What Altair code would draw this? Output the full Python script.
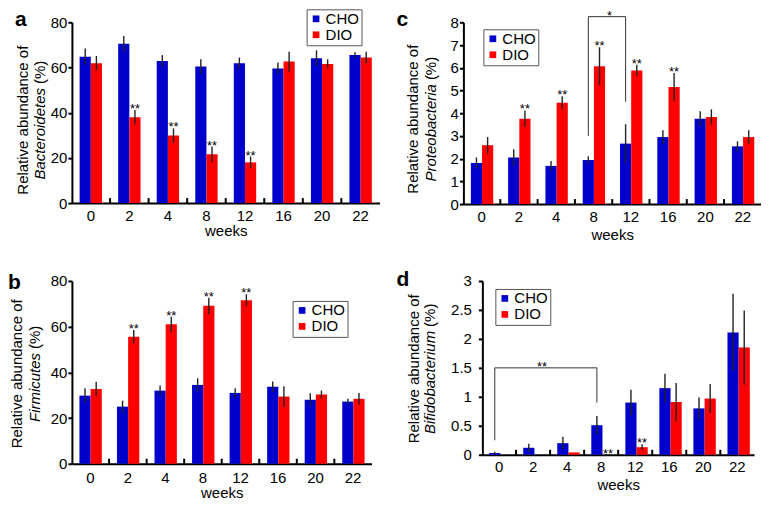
import altair as alt
import pandas as pd

weeks = ["0", "2", "4", "8", "12", "16", "20", "22"]
groups = ["CHO", "DIO"]
colors = ["#0000CC", "#FF0000"]
FONT = "Liberation Sans"

# Panel a: Bacteroidetes
a_cho = [64.8, 70.5, 62.9, 60.4, 61.9, 59.6, 64.1, 65.5]
a_cho_err = [3.6, 3.4, 2.6, 3.2, 2.5, 2.6, 3.5, 1.2]
a_dio = [61.9, 38.0, 29.9, 21.6, 18.0, 62.6, 61.6, 64.4]
a_dio_err = [3.2, 3.2, 3.2, 3.4, 2.6, 4.4, 2.0, 2.6]
a_stars = ["2", "4", "8", "12"]

# Panel b: Firmicutes
b_cho = [29.8, 25.0, 32.0, 34.5, 31.0, 33.7, 28.0, 27.2]
b_cho_err = [3.2, 2.6, 2.2, 2.9, 2.0, 2.3, 2.8, 1.2]
b_dio = [32.7, 55.6, 61.0, 69.1, 71.6, 29.4, 30.3, 28.4]
b_dio_err = [3.2, 2.9, 3.3, 3.6, 2.6, 4.5, 1.7, 2.6]
b_stars = ["2", "4", "8", "12"]

# Panel c: Proteobacteria
c_cho = [1.81, 2.05, 1.68, 1.94, 2.66, 2.95, 3.76, 2.54]
c_cho_err = [0.24, 0.36, 0.22, 0.16, 0.85, 0.30, 0.33, 0.22]
c_dio = [2.59, 3.76, 4.46, 6.07, 5.88, 5.15, 3.83, 2.95]
c_dio_err = [0.36, 0.36, 0.28, 0.83, 0.25, 0.62, 0.34, 0.30]
c_stars = ["2", "4", "8", "12", "16"]
c_bracket_weeks = ["8", "8", "12", "12"]
c_bracket_vals = [3.0, 8.25, 8.25, 4.5]

# Panel d: Bifidobacterium
d_cho = [0.03, 0.12, 0.20, 0.51, 0.90, 1.15, 0.80, 2.11]
d_cho_err = [0.02, 0.07, 0.11, 0.16, 0.22, 0.25, 0.19, 0.67]
d_dio = [0.0, 0.0, 0.04, 0.0, 0.13, 0.91, 0.97, 1.85]
d_dio_err = [0.0, 0.0, 0.0, 0.0, 0.05, 0.33, 0.25, 0.64]
d_stars = ["8", "12"]
d_bracket_weeks = ["0", "0", "8", "8"]
d_bracket_vals = [0.25, 1.5, 1.5, 0.9]

ITALIC_EM = {"Bacteroidetes": 6.114, "Proteobacteria": 6.503,
             "Firmicutes": 4.611, "Bifidobacterium": 6.891}
PCT_EM = 1.555
FS = 15
P_IN, P_OUT = 0.42, 0.2


def make_df(cho, cho_err, dio, dio_err, star_weeks):
    rows = []
    for g, m, e in (("CHO", cho, cho_err), ("DIO", dio, dio_err)):
        for w, mv, ev in zip(weeks, m, e):
            rows.append({"week": w, "group": g, "mean": mv,
                         "lo": mv - ev, "hi": mv + ev,
                         "star": "**" if (g == "DIO" and w in star_weeks) else ""})
    return pd.DataFrame(rows)


one = pd.DataFrame({"k": [0]})


def txt(text, x, y, **kw):
    params = dict(font=FONT, fontSize=FS, color="black")
    params.update(kw)
    return alt.Chart(one).mark_text(text=text, **params).encode(
        x=alt.value(x), y=alt.value(y))


def panel(df, ymax, yvals, W, H, letter, lx, ly, taxon, t1x, t2x, cy,
          leg_x, leg_y, lab_pad, title_pad, ylab_pad,
          bracket=None, bstar=None):
    xscale = alt.Scale(domain=weeks, paddingInner=P_IN, paddingOuter=P_OUT)
    xaxis = alt.Axis(title="weeks", labelAngle=0, ticks=False,
                     labelPadding=lab_pad, titlePadding=title_pad)
    x_enc = alt.X("week:N", sort=weeks, scale=xscale, axis=xaxis)
    xo = alt.XOffset("group:N", sort=groups,
                     scale=alt.Scale(domain=groups, paddingInner=0, paddingOuter=0))
    y_scale = alt.Scale(domain=[0, ymax], nice=False, zero=True)
    y_axis = alt.Axis(title=None, values=yvals, format="~r", labelPadding=ylab_pad,
                      labelOverlap=False)

    def Y(field):
        return alt.Y(field, scale=y_scale, axis=y_axis)

    legend = alt.Legend(title=None, orient="none", legendX=leg_x, legendY=leg_y,
                        direction="vertical", symbolType="square", symbolSize=45,
                        symbolStrokeWidth=0, labelFont=FONT, labelFontSize=FS,
                        labelColor="black", strokeColor="#555555", fillColor="white",
                        padding=2, rowPadding=0, labelOffset=2, cornerRadius=0)

    bars = alt.Chart(df).mark_bar(strokeWidth=0).encode(
        x=x_enc, xOffset=xo, y=Y("mean:Q"),
        color=alt.Color("group:N", scale=alt.Scale(domain=groups, range=colors),
                        legend=legend))
    err = alt.Chart(df).mark_rule(color="#222222", strokeWidth=1.4).encode(
        x=x_enc, xOffset=xo, y=Y("lo:Q"), y2="hi:Q")
    stars = alt.Chart(df).transform_filter("datum.star != ''").mark_text(
        font=FONT, fontSize=13, baseline="alphabetic", dy=3, color="black").encode(
        x=x_enc, xOffset=xo, y=Y("hi:Q"), text="star:N")

    step = W / (len(weeks) - P_IN + 2 * P_OUT)
    ticks = alt.Chart(pd.DataFrame({"week": weeks[1:]})).mark_rule(
        color="black", strokeWidth=2).encode(
        x=alt.X("week:N", sort=weeks, scale=xscale, axis=xaxis, bandPosition=0),
        xOffset=alt.value(-P_IN * step / 2),
        y=alt.value(H), y2=alt.value(H - 5))

    wi = ITALIC_EM[taxon] * FS
    wp = PCT_EM * FS
    gap = 4
    p = cy + (wp - wi) / 2
    layers = [bars, err, stars, ticks,
              txt("Relative abundance of", t1x, cy, angle=270, align="center", baseline="middle"),
              txt(taxon, t2x, p + gap / 2, angle=270, align="right", baseline="middle", fontStyle="italic"),
              txt("(%)", t2x, p - gap / 2, angle=270, align="left", baseline="middle"),
              txt(letter, lx, ly, fontSize=21, fontWeight="bold", align="left", baseline="top")]

    if bracket is not None:
        bw, bv = bracket
        bdf = pd.DataFrame({"week": bw, "group": ["CHO"] * len(bw), "v": bv,
                            "i": list(range(len(bw)))})
        layers.append(alt.Chart(bdf).mark_line(color="#333333", strokeWidth=1).encode(
            x=x_enc, xOffset=xo, y=Y("v:Q"), order="i:Q"))
        sw, sg, sv, stext, sdx = bstar
        sdf = pd.DataFrame({"week": [sw], "group": [sg], "v": [sv], "t": [stext]})
        layers.append(alt.Chart(sdf).mark_text(
            font=FONT, fontSize=13, baseline="alphabetic", dy=3, dx=sdx, color="black").encode(
            x=x_enc, xOffset=xo, y=Y("v:Q"), text="t:N"))

    return alt.layer(*layers).properties(width=W, height=H)


pa = panel(make_df(a_cho, a_cho_err, a_dio, a_dio_err, a_stars), 80, [0, 20, 40, 60, 80],
           308, 181, "a", -57, -13, "Bacteroidetes", -49, -32, 98,
           235, -13, 5, 0, 1)
pc = panel(make_df(c_cho, c_cho_err, c_dio, c_dio_err, c_stars), 8, list(range(9)),
           298, 182, "c", -67, -13, "Proteobacteria", -50, -32.5, 97,
           20, 7, 5, 3, 1,
           bracket=(c_bracket_weeks, c_bracket_vals), bstar=("8", "DIO", 8.25, "*", 10))
pb = panel(make_df(b_cho, b_cho_err, b_dio, b_dio_err, b_stars), 80, [0, 20, 40, 60, 80],
           300, 183, "b", -64, -9, "Firmicutes", -54.5, -37, 93,
           221, 20, 7, 0, 1)
pd_ = panel(make_df(d_cho, d_cho_err, d_dio, d_dio_err, d_stars), 3, [0, 0.5, 1, 1.5, 2, 2.5, 3],
            272, 174, "d", -86, -12, "Bifidobacterium", -68, -52, 88,
            13, 8, 5, 3, 7,
            bracket=(d_bracket_weeks, d_bracket_vals), bstar=("2", "DIO", 1.5, "**", 2))

row1 = alt.hconcat(pa, pc, spacing=17).resolve_scale(color="independent").resolve_legend(color="independent")
row2 = alt.hconcat(pb, pd_, spacing=25).resolve_scale(color="independent").resolve_legend(color="independent")

chart = alt.vconcat(row1, row2, spacing=27).resolve_scale(
    color="independent").resolve_legend(color="independent").properties(
    padding={"left": 0, "top": 0, "right": 0, "bottom": 0}
).configure(font=FONT, padding={"left": 0, "top": 0, "right": 0, "bottom": 0}).configure_axis(
    domainColor="black", domainWidth=2, tickColor="black", tickWidth=2, tickSize=4,
    labelFont=FONT, labelFontSize=FS, labelColor="black",
    titleFont=FONT, titleFontSize=FS, titleFontWeight="normal", titleColor="black",
    grid=False
).configure_view(stroke=None)

chart.save("out.html", embed_options={"renderer": "svg", "actions": False})
